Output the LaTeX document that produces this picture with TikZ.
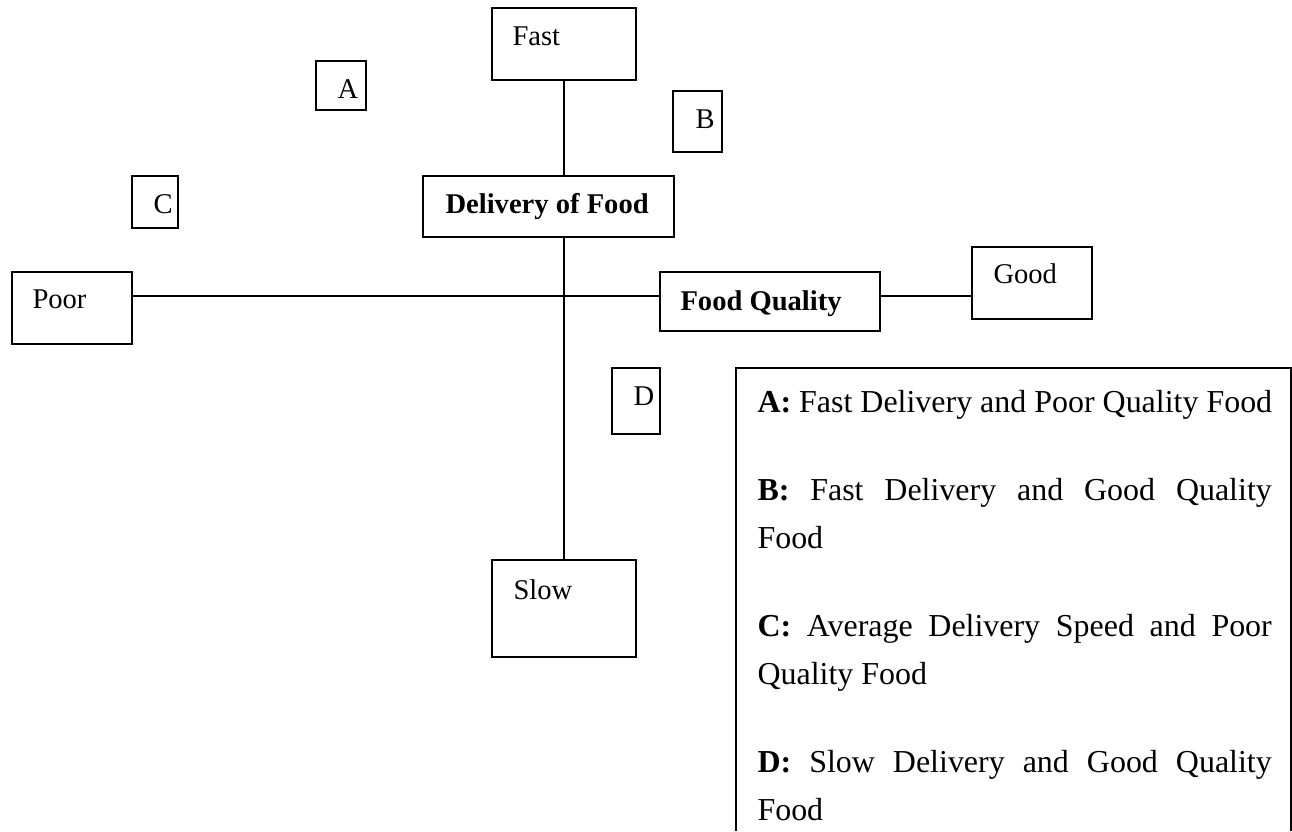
\documentclass[tikz,border=0pt]{standalone}
\usepackage{fontspec}
\setmainfont{Liberation Serif}
\usetikzlibrary{fit}

\tikzset{
  frame/.style={draw, line width=0.8pt, inner sep=0pt},
  wire/.style={line width=0.8pt},
  lbl/.style={anchor=base west, inner sep=0pt, font=\fontsize{11}{13}\selectfont},
  key/.style={anchor=base west, inner sep=0pt, font=\fontsize{12.3}{14}\selectfont}
}

\begin{document}
\begin{tikzpicture}[x=0.385pt, y=-0.385pt]
\useasboundingbox (0,0) rectangle (1292,831);

% boxes
\node[frame, fit={(492,8) (636,80)}] (fast) {};
\node[frame, fit={(316,61) (366,110)}] (boxa) {};
\node[frame, fit={(673,91) (722,152)}] (boxb) {};
\node[frame, fit={(132,176) (178,228)}] (boxc) {};
\node[frame, fit={(423,176) (674,237)}] (delivery) {};
\node[frame, fit={(12,272) (132,344)}] (poor) {};
\node[frame, fit={(660,272) (880,331)}] (quality) {};
\node[frame, fit={(972,247) (1092,319)}] (good) {};
\node[frame, fit={(612,368) (660,434)}] (boxd) {};
\node[frame, fit={(492,560) (636,657)}] (slow) {};

% box texts
\node[lbl] (fasttext) at (512,45) {Fast};
\node[lbl] (atext) at (337,98) {A};
\node[lbl] (btext) at (695,128) {B};
\node[lbl] (ctext) at (153,213) {C};
\node[lbl] (deliverytext) at (445,213) {\textbf{Delivery of Food}};
\node[lbl] (poortext) at (32,308) {Poor};
\node[lbl] (qualitytext) at (680,310) {\textbf{Food Quality}};
\node[lbl] (goodtext) at (993,283) {Good};
\node[lbl] (dtext) at (633,405) {D};
\node[lbl] (slowtext) at (513,599) {Slow};

% axes
\coordinate (axis) at (564,296);
\draw[wire] (fast.south) -- (fast.south |- delivery.north);
\draw[wire] (delivery.south -| slow.north) -- (slow.north);
\draw[wire] (poor.east |- axis) -- (quality.west |- axis);
\draw[wire] (quality.east |- axis) -- (good.west |- axis);

% legend
\draw[wire] (736,831) |- (1291,368) -- (1291,831);
\node[key] (itema) at (757,412) {\textbf{A:} Fast Delivery and Poor Quality Food};
\node[key] (itemb1) at (757,500) {\makebox[198pt][s]{\textbf{B:} Fast Delivery and Good Quality}};
\node[key] (itemb2) at (757,548) {Food};
\node[key] (itemc1) at (757,636) {\makebox[198pt][s]{\textbf{C:} Average Delivery Speed and Poor}};
\node[key] (itemc2) at (757,684) {Quality Food};
\node[key] (itemd1) at (757,772) {\makebox[198pt][s]{\textbf{D:} Slow Delivery and Good Quality}};
\node[key] (itemd2) at (757,820) {Food};
\end{tikzpicture}
\end{document}
